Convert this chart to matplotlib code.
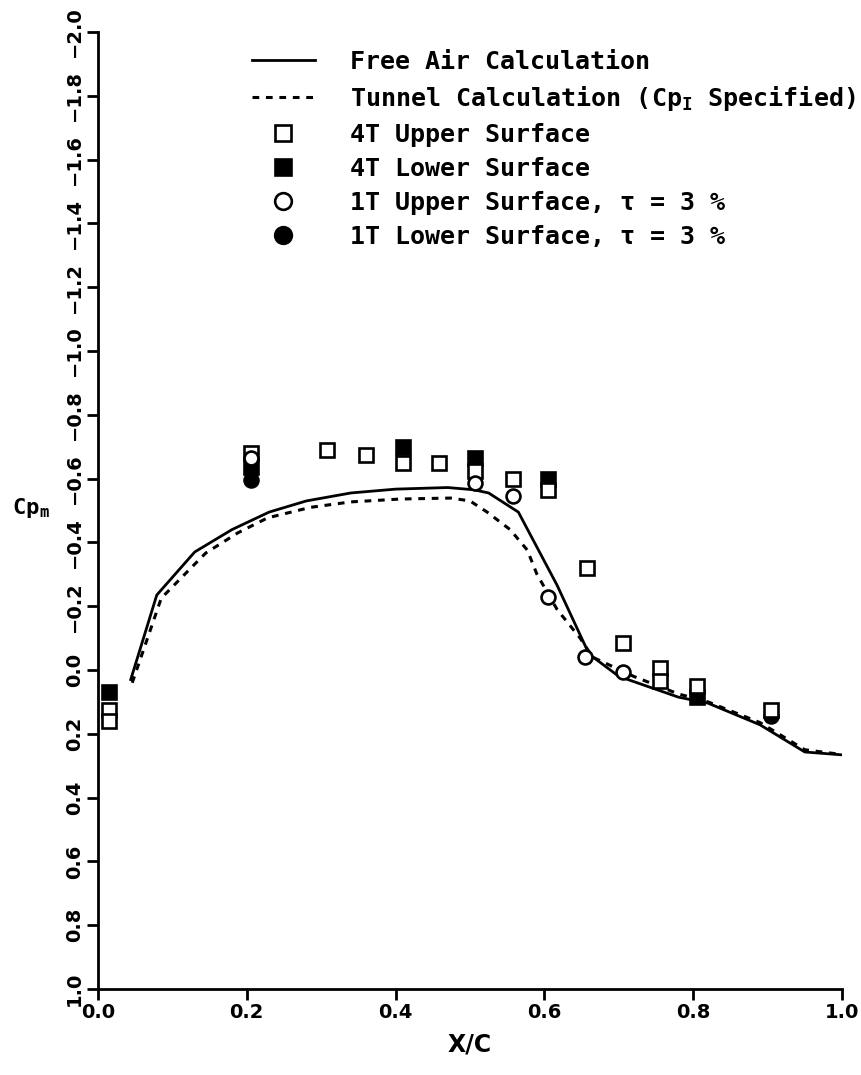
import matplotlib
matplotlib.use("Agg")
import matplotlib.pyplot as plt

# chordwise pressure distribution
free_x = [0.044, 0.079, 0.13, 0.18, 0.23, 0.28, 0.34, 0.40, 0.47, 0.505, 0.525,
          0.565, 0.617, 0.66, 0.70, 0.78, 0.82, 0.89, 0.95, 1.0]
free_cp = [0.03, -0.235, -0.37, -0.44, -0.495, -0.53, -0.555, -0.567, -0.572, -0.565,
           -0.555, -0.495, -0.266, -0.05, 0.02, 0.085, 0.104, 0.172, 0.257, 0.266]

tunnel_x = [0.046, 0.085, 0.125, 0.145, 0.188, 0.228, 0.286, 0.34, 0.407, 0.474, 0.50,
            0.523, 0.554, 0.577, 0.59, 0.617, 0.648, 0.665, 0.72, 0.78, 0.82, 0.89,
            0.95, 1.0]
tunnel_cp = [0.04, -0.225, -0.32, -0.367, -0.43, -0.477, -0.51, -0.527, -0.536, -0.539,
             -0.53, -0.495, -0.44, -0.376, -0.30, -0.19, -0.10, -0.04, 0.02, 0.075,
             0.10, 0.165, 0.25, 0.265]

up4_x = [0.015, 0.015, 0.205, 0.308, 0.36, 0.41, 0.458, 0.507, 0.558, 0.605, 0.657,
         0.705, 0.755, 0.755, 0.805, 0.905]
up4_cp = [0.125, 0.16, -0.68, -0.69, -0.674, -0.65, -0.65, -0.625, -0.60, -0.565,
          -0.32, -0.085, -0.005, 0.035, 0.05, 0.125]

lo4_x = [0.015, 0.205, 0.41, 0.507, 0.605, 0.805]
lo4_cp = [0.07, -0.635, -0.70, -0.665, -0.60, 0.085]

up1_x = [0.205, 0.507, 0.558, 0.605, 0.655, 0.705]
up1_cp = [-0.665, -0.585, -0.545, -0.23, -0.04, 0.005]

lo1_x = [0.205, 0.905]
lo1_cp = [-0.595, 0.145]

xticks = [0.0, 0.2, 0.4, 0.6, 0.8, 1.0]
yticks = [-2.0, -1.8, -1.6, -1.4, -1.2, -1.0, -0.8, -0.6, -0.4, -0.2,
          0.0, 0.2, 0.4, 0.6, 0.8, 1.0]

plt.rcParams['mathtext.fontset'] = 'custom'
plt.rcParams['mathtext.rm'] = 'DejaVu Sans Mono:bold'
plt.rcParams['mathtext.it'] = 'DejaVu Sans Mono:bold'
plt.rcParams['mathtext.bf'] = 'DejaVu Sans Mono:bold'

fig = plt.figure(figsize=(8.62, 10.75), dpi=100)
ax = fig.add_axes([98 / 862, 1 - 989 / 1075, 744 / 862, 957 / 1075])

ms = 10
mew = 1.9
ax.plot(free_x, free_cp, color='black', lw=2.0, label='Free Air Calculation', zorder=2)
ax.plot(tunnel_x, tunnel_cp, color='black', lw=2.2, ls=(0, (2.2, 2.2)),
        label=r'Tunnel Calculation (Cp$_{\mathrm{I}}$ Specified)', zorder=2)
ax.plot(lo4_x, lo4_cp, ls='none', marker='s', ms=ms, mfc='black', mec='black',
        mew=mew, zorder=3)
ax.plot(lo1_x, lo1_cp, ls='none', marker='o', ms=ms, mfc='black', mec='black',
        mew=mew, zorder=3)
ax.plot(up4_x, up4_cp, ls='none', marker='s', ms=ms, mfc='white', mec='black',
        mew=mew, zorder=4)
ax.plot(up1_x, up1_cp, ls='none', marker='o', ms=ms, mfc='white', mec='black',
        mew=mew, zorder=4)

# legend handles in the original order
h = ax.get_lines()
handles = [h[0], h[1], h[4], h[2], h[5], h[3]]
labels = ['Free Air Calculation',
          r'Tunnel Calculation (Cp$_{\mathrm{I}}$ Specified)',
          '4T Upper Surface',
          '4T Lower Surface',
          '1T Upper Surface, τ = 3 %',
          '1T Lower Surface, τ = 3 %']
fig.legend(handles, labels, loc='upper left', bbox_to_anchor=(252 / 862, 1 - 50 / 1075),
           frameon=False, borderpad=0, borderaxespad=0, handlelength=2.5,
           handletextpad=1.4, labelspacing=0.4, markerscale=1.2,
           prop=dict(family='DejaVu Sans Mono', weight='bold', size=18))

ax.set_xlim(0, 1.0)
ax.set_ylim(1.0, -2.0)
ax.set_xticks(xticks)
ax.set_xticklabels([f'{v:.1f}' for v in xticks], fontsize=14, fontweight='bold')
ax.set_yticks(yticks)
ax.set_yticklabels([f'{v:.1f}'.replace('-', '\u2212') for v in yticks],
                   fontsize=14, rotation=90, va='center', fontweight='bold')
ax.tick_params(direction='out', length=8, width=2, pad=2)
for s in ['top', 'right']:
    ax.spines[s].set_visible(False)
for s in ['left', 'bottom']:
    ax.spines[s].set_linewidth(2)

ax.set_xlabel('X/C', fontsize=17, fontweight='bold', labelpad=8)
ax.set_ylabel(r'Cp$_{\mathrm{m}}$', fontsize=16, fontweight='bold', rotation=0,
              family='DejaVu Sans Mono')
ax.yaxis.set_label_coords(-0.09, 0.49)

fig.savefig('out.png', dpi=100, facecolor='white')
